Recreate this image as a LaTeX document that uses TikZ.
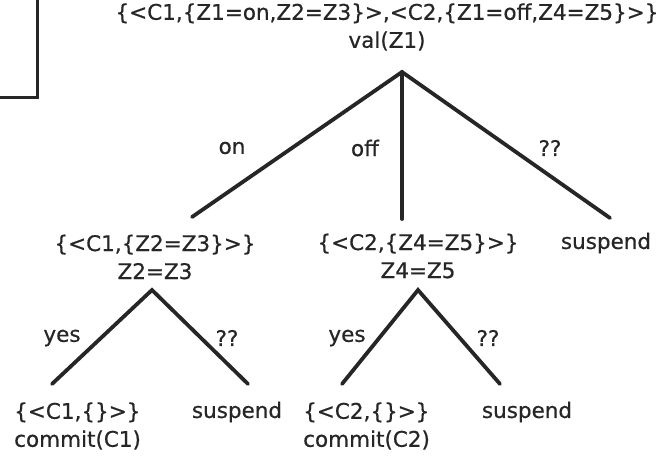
\documentclass[tikz,border=0pt]{standalone}
\usepackage{fontspec}
\setmainfont[FakeBold=0.6]{DejaVu Sans}
\definecolor{ink}{HTML}{262626}
\begin{document}
\begin{tikzpicture}[x=1pt,y=-1pt,
  txt/.style={font=\fontsize{21.5}{28}\selectfont, inner sep=0pt, text=ink, align=center},
  lft/.style={txt, align=left, anchor=west},
  br/.style={line width=3.8pt, draw=ink, line cap=round},
  frame/.style={line width=3pt, draw=ink}]
\useasboundingbox (0,0) rectangle (660,461);
% corner frame at top left
\draw[frame] (37,-2) -- (37,97) -- (-2,97);
% tree nodes
\node[txt] (root) at (387,27) {\{<C1,\{Z1=on,Z2=Z3\}>,<C2,\{Z1=off,Z4=Z5\}>\}\\val(Z1)};
\node[txt] (c1) at (155,257) {\{<C1,\{Z2=Z3\}>\}\\Z2=Z3};
\node[txt] (c2) at (418,256) {\{<C2,\{Z4=Z5\}>\}\\Z4=Z5};
\node[txt] (s0) at (606,243) {suspend};
\node[lft] (l1) at (14,426) {\{<C1,\{\}>\}\\commit(C1)};
\node[txt] (s1) at (237,412) {suspend};
\node[lft] (l2) at (303,426) {\{<C2,\{\}>\}\\commit(C2)};
\node[txt] (s2) at (527,412) {suspend};
% branch points
\coordinate (ra) at (402,72);
\coordinate (ea) at (192,217);
\coordinate (eb) at (402,219);
\coordinate (ec) at (610,218);
\coordinate (c1a) at (152,290);
\coordinate (c1l) at (52,384);
\coordinate (c1r) at (248,384);
\coordinate (c2a) at (418,290);
\coordinate (c2l) at (342,384);
\coordinate (c2r) at (500,384);
% connectors
\draw[br] (ea) -- (ra) -- (ec);
\draw[br] (ra) -- (eb);
\draw[br] (c1l) -- (c1a) -- (c1r);
\draw[br] (c2l) -- (c2a) -- (c2r);
% labels
\node[txt] (lon) at (232,148) {on};
\node[txt] (loff) at (365,148) {off};
\node[txt] (lq0) at (550,148) {??};
\node[txt] (ly1) at (62,338) {yes};
\node[txt] (lq1) at (227,338) {??};
\node[txt] (ly2) at (347,338) {yes};
\node[txt] (lq2) at (488,338) {??};
\end{tikzpicture}
\end{document}
